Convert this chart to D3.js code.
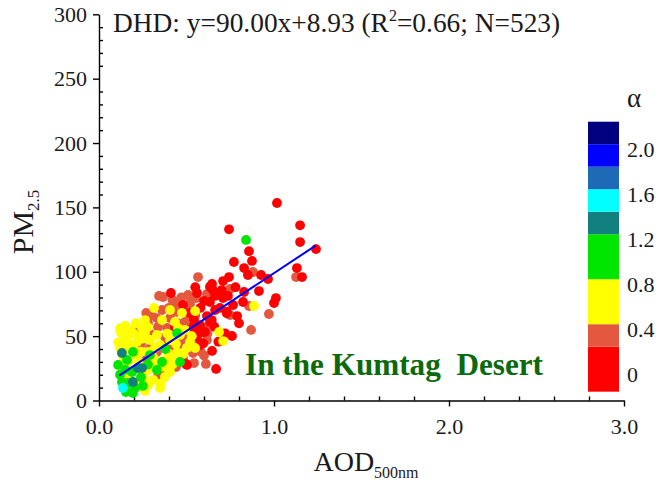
<!DOCTYPE html>
<html><head><meta charset="utf-8">
<script src="https://cdn.jsdelivr.net/npm/d3@7"></script>
<style>
body{margin:0;background:#fff}
svg{display:block}
text{font-family:"Liberation Serif","Times New Roman",serif}
</style>
</head><body>
<svg id="chart" width="662" height="482"></svg>
<script>
// ---------- data ----------
const xMajorTicks = [0, 1, 2, 3];
const xMinorTicks = [0.2,0.4,0.6,0.8,1.2,1.4,1.6,1.8,2.2,2.4,2.6,2.8];
const yMajorTicks = [0, 50, 100, 150, 200, 250, 300];
const yMinorTicks = [10,20,30,40,60,70,80,90,110,120,130,140,160,170,180,190,210,220,230,240,260,270,280,290];
const alphaTickLabels = [0, 0.4, 0.8, 1.2, 1.6, 2.0];
const alphaBreaks = [-0.2, 0.2, 0.4, 0.8, 1.2, 1.4, 1.6, 1.8, 2.0, 2.2];
const alphaColors = ["#ff0000","#e4583f","#ffff00","#00e600","#138080","#00ffff","#1f6ab6","#0000ff","#000080"];
const fitSlope = 90.00, fitIntercept = 8.93;
const fitAodRange = [0.115, 1.24];
const titleParts = ["DHD: y=90.00x+8.93 (R", "2", "=0.66; N=523)"];
const siteLabel = "In the Kumtag  Desert";

// points per alpha class: [AOD500nm, PM2.5]
const alphaTomato = 0.3, alphaRed = 0.1, alphaYellow = 0.6, alphaGreen = 1.0, alphaTeal = 1.3, alphaCyan = 1.5;
const ptsTomato = [
 [0.880,99.8],[1.126,95.9],[0.566,95.9],[0.749,86.6],[0.617,82.7],[0.857,73.4],[0.971,67.2],[0.869,54.8],
 [0.611,28.4],[0.543,29.1],[0.343,81.2],[0.366,80.4],[0.509,82.0],[0.520,80.4],[0.360,70.3],[0.446,68.8],
 [0.503,72.6],[0.503,64.9],[0.280,60.2],[0.337,57.1],[0.389,56.3],[0.491,61.0],[0.606,56.3],[0.377,49.3],
 [0.503,50.9],[0.617,47.0],[0.537,36.9],[0.331,37.7],[0.331,17.5],[0.554,79.6],[0.434,75.7],[0.406,64.1],
 [0.234,54.8],[0.291,40.8],[0.451,43.1],[0.480,33.0],[0.566,47.0],[0.269,31.5],[0.749,66.4],[0.600,35.0],
 [0.420,78.0],[0.470,80.0],[0.400,72.0],[0.520,75.0],[0.300,66.0],[0.330,64.0],[0.450,60.0],[0.530,57.0],
 [0.380,45.0],[0.420,40.0],[0.580,38.0],[0.290,52.0],[0.240,44.0],[0.470,47.0],[0.620,52.0],[0.360,20.0],
 [0.440,26.0],[0.550,66.0],[0.270,68.0],[0.210,57.0]
];
const ptsRed = [
 [1.017,153.4],[0.743,133.0],[1.149,136.1],[1.149,123.1],[1.240,117.6],[0.857,116.0],[0.874,108.4],[0.771,107.6],
 [0.829,102.9],[1.131,102.9],[0.851,97.5],[0.926,97.5],[0.743,95.9],[0.966,94.4],[1.160,95.9],[0.709,92.8],
 [0.646,90.5],[0.829,84.3],[0.651,85.8],[0.663,81.2],[0.709,79.6],[0.737,81.2],[1.011,79.6],[1.000,75.7],
 [0.823,76.5],[0.766,74.2],[0.691,71.9],[0.617,65.6],[0.789,65.6],[0.760,50.1],[0.594,53.2],[0.646,38.5],
 [0.669,24.5],[0.497,28.4],[0.411,83.5],[0.560,83.5],[0.480,74.2],[0.600,77.3],[0.634,76.5],[0.577,58.6],
 [0.543,62.5],[0.634,61.0],[0.434,57.1],[0.560,52.4],[0.577,43.1],[0.606,53.2],[0.503,27.6],[0.914,85.0],
 [0.691,82.0],[0.730,69.0],[0.644,62.5],[0.659,57.3],[0.539,57.3],[0.558,49.6],[0.634,88.4],[0.701,85.8],
 [0.663,70.3],[0.730,67.7],[0.596,44.4],[0.720,52.2],[0.682,45.7],[0.580,72.0],[0.780,88.0],[0.800,60.0],
 [0.520,68.0],[0.550,88.0]
];
const ptsYellow = [
 [0.886,73.4],[0.686,53.2],[0.709,46.2],[0.314,71.9],[0.549,69.5],[0.434,61.0],[0.451,56.3],[0.246,56.3],
 [0.263,52.4],[0.194,52.4],[0.160,48.6],[0.137,44.7],[0.149,39.2],[0.217,45.4],[0.291,47.0],[0.331,50.9],
 [0.520,45.4],[0.406,47.0],[0.503,40.8],[0.446,37.7],[0.423,31.5],[0.377,31.5],[0.349,25.9],[0.309,33.8],
 [0.251,21.4],[0.280,23.7],[0.377,18.3],[0.406,22.1],[0.280,12.0],[0.234,15.9],[0.177,43.1],[0.120,40.8],
 [0.206,35.3],[0.349,43.1],[0.280,37.7],[0.394,36.9],[0.463,50.9],[0.360,62.5],[0.406,70.3],[0.491,54.8],
 [0.549,40.8],[0.349,9.7],[0.474,68.0],[0.263,62.5],[0.126,52.4],[0.166,29.9],[0.223,31.5],[0.263,7.4],
 [0.120,56.0],[0.150,58.0],[0.180,55.0],[0.220,50.0],[0.250,48.0],[0.190,40.0],[0.240,38.0],[0.140,33.0],
 [0.300,28.0],[0.330,30.0],[0.380,26.0],[0.420,28.0],[0.230,28.0],[0.170,19.0],[0.310,16.0],[0.350,13.0],
 [0.260,16.0],[0.210,60.0],[0.280,57.0],[0.390,52.0],[0.440,44.0],[0.480,36.0],[0.530,50.0],[0.110,45.0],
 [0.320,41.0]
];
const ptsGreen = [
 [0.840,124.7],[0.446,52.4],[0.463,29.9],[0.360,29.9],[0.291,35.3],[0.194,37.7],[0.109,27.6],[0.160,31.5],
 [0.189,22.1],[0.331,23.7],[0.131,14.4],[0.166,13.6],[0.251,11.3],[0.149,10.5],[0.206,9.7],[0.154,6.6],[0.194,5.8],
 [0.120,20.0],[0.240,18.0],[0.280,28.0],[0.380,40.0],[0.150,24.0]
];
const ptsTeal = [[0.131,36.9],[0.223,25.2],[0.246,25.2],[0.194,14.4]];
const ptsCyan = [[0.137,9.7]];

// ---------- drawing ----------
const svg = d3.select("#chart");
const x = d3.scaleLinear().domain([0, 3]).range([99, 624]);
const y = d3.scaleLinear().domain([0, 300]).range([400.5, 14.3]);
const color = d3.scaleThreshold().domain(alphaBreaks.slice(1, -1)).range(alphaColors);

function styleAxis(g) {
  g.selectAll(".domain").attr("stroke", "#000").attr("stroke-width", 1.4);
  g.selectAll(".tick line").attr("stroke", "#000").attr("stroke-width", 1.4);
  g.selectAll("text").attr("font-family", "Liberation Serif, serif").attr("font-size", 22).attr("fill", "#1a1a1a");
}

// minor ticks (inward)
svg.append("g").attr("transform", "translate(0,400.5)")
  .call(d3.axisBottom(x).tickValues(xMinorTicks).tickSize(-4).tickFormat(""))
  .call(g => g.select(".domain").remove()).call(styleAxis);
svg.append("g").attr("transform", "translate(99,0)")
  .call(d3.axisLeft(y).tickValues(yMinorTicks).tickSize(-4).tickFormat(""))
  .call(g => g.select(".domain").remove()).call(styleAxis);

// major axes
svg.append("g").attr("transform", "translate(0,400.5)")
  .call(d3.axisBottom(x).tickValues(xMajorTicks).tickSize(6).tickSizeOuter(0).tickPadding(12).tickFormat(d3.format(".1f")))
  .call(styleAxis);
svg.append("g").attr("transform", "translate(99,0)")
  .call(d3.axisLeft(y).tickValues(yMajorTicks).tickSize(6).tickSizeOuter(0).tickPadding(6))
  .call(styleAxis);

// points
const layers = [
  [ptsTomato, alphaTomato], [ptsRed, alphaRed], [ptsYellow, alphaYellow],
  [ptsGreen, alphaGreen], [ptsTeal, alphaTeal], [ptsCyan, alphaCyan]
];
const pg = svg.append("g");
layers.forEach(([pts, a]) => {
  pg.selectAll(null).data(pts).join("circle")
    .attr("cx", d => x(d[0])).attr("cy", d => y(d[1]))
    .attr("r", 4.9).attr("fill", color(a));
});

// fit line
svg.append("line")
  .attr("x1", x(fitAodRange[0])).attr("y1", y(fitSlope * fitAodRange[0] + fitIntercept))
  .attr("x2", x(fitAodRange[1])).attr("y2", y(fitSlope * fitAodRange[1] + fitIntercept))
  .attr("stroke", "#0000ff").attr("stroke-width", 2);

// title
const t = svg.append("text").attr("x", 113).attr("y", 32).attr("font-size", 27.4).attr("fill", "#1a1a1a");
t.append("tspan").text(titleParts[0]);
t.append("tspan").attr("font-size", 16).attr("dy", -11).text(titleParts[1]);
t.append("tspan").attr("dy", 11).text(titleParts[2]);

// site label
svg.append("text").attr("x", 245).attr("y", 375).attr("font-size", 31.2).attr("font-weight", "bold")
  .attr("fill", "#0b6a0b").style("white-space", "pre").text(siteLabel);

// x title
const xt = svg.append("text").attr("x", 366).attr("y", 471).attr("text-anchor", "middle").attr("font-size", 28).attr("fill", "#1a1a1a");
xt.append("tspan").text("AOD");
xt.append("tspan").attr("font-size", 16).attr("dy", 7).text("500nm");

// y title
const yt = svg.append("text").attr("transform", "translate(33,222) rotate(-90)").attr("text-anchor", "middle").attr("font-size", 30).attr("fill", "#1a1a1a");
yt.append("tspan").text("PM");
yt.append("tspan").attr("font-size", 17).attr("dy", 6).text("2.5");

// color bar
const cb = d3.scaleLinear().domain([-0.2, 2.2]).range([391.7, 121.7]);
const segs = d3.pairs(alphaBreaks);
svg.append("g").selectAll("rect").data(segs).join("rect")
  .attr("x", 588).attr("width", 31)
  .attr("y", d => cb(d[1])).attr("height", d => cb(d[0]) - cb(d[1]))
  .attr("fill", d => color((d[0] + d[1]) / 2));
svg.append("g").attr("transform", "translate(619,5)")
  .call(d3.axisRight(cb).tickValues(alphaTickLabels).tickSize(0).tickPadding(8).tickFormat(d => d === 0 ? "0" : d3.format(".1f")(d)))
  .call(g => g.select(".domain").remove())
  .call(g => g.selectAll("text").attr("font-size", 22).attr("fill", "#1a1a1a").attr("font-family", "Liberation Serif, serif"));
svg.append("text").attr("x", 627).attr("y", 107).attr("font-size", 27).attr("fill", "#1a1a1a").text("α");
</script>
</body></html>
